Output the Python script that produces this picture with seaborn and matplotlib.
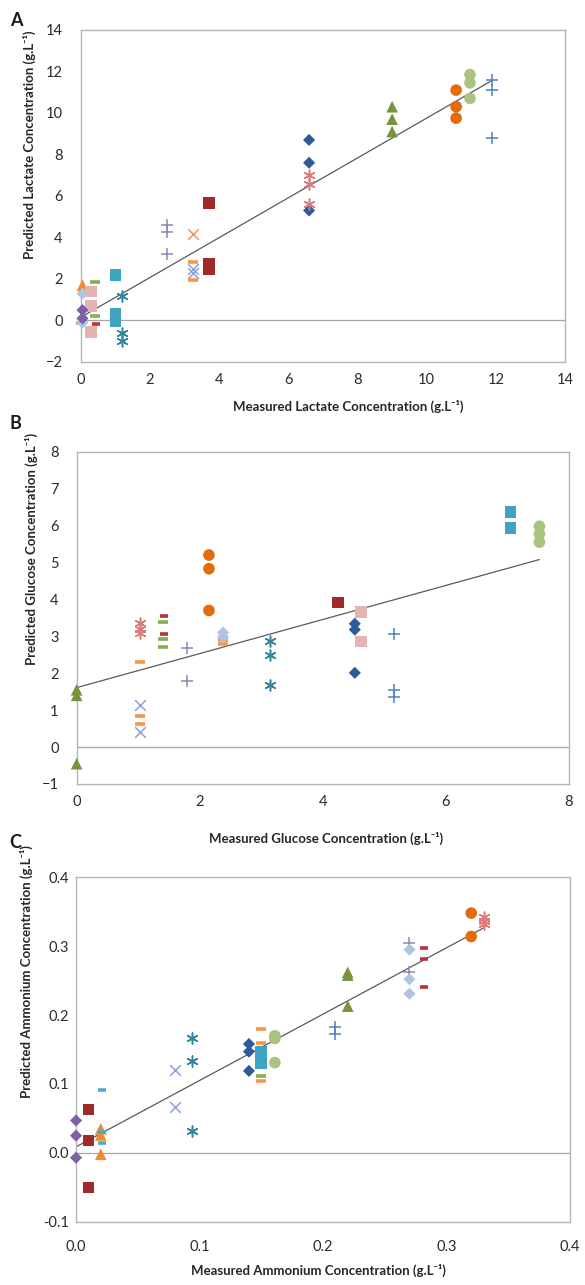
import numpy as np
import pandas as pd
import matplotlib
matplotlib.use('Agg')
import matplotlib.pyplot as plt
import seaborn as sns

# %%
# Panel A - lactate (measured, predicted, series)
lac_meas = [6.6, 6.6, 6.6, 6.6, 6.6, 6.6,
            3.7, 3.7, 3.7, 0.45,
            2.5, 2.5, 2.5,
            3.25, 3.25, 3.25, 3.25, 3.25,
            1.0, 1.0, 1.0, 1.0,
            1.2, 1.2, 1.2,
            9.0, 9.0, 9.0,
            10.85, 10.85, 10.85,
            11.25, 11.25, 11.25,
            11.9, 11.9, 11.9,
            0.05, 0.05, 0.05, 0.3, 0.3, 0.3, 0.4, 0.4, 0.05, 0.05, 0.0]
lac_pred = [8.7, 7.6, 5.3, 7.0, 6.6, 5.6,
            5.65, 2.75, 2.45, -0.15,
            4.6, 4.25, 3.2,
            4.15, 2.5, 2.3, 2.8, 1.95,
            2.2, 0.3, 0.1, -0.05,
            1.2, -0.6, -1.0,
            10.3, 9.7, 9.1,
            11.1, 10.3, 9.75,
            11.85, 11.45, 10.7,
            11.6, 11.1, 8.8,
            1.7, 1.3, -0.1, 1.4, 0.7, -0.55, 1.85, 0.2, 0.5, 0.1, -0.1]
lac_group = ['dia_blue'] * 3 + ['ast_pink'] * 3 + \
            ['sq_red'] * 3 + ['dash_red'] + \
            ['plus_purple'] * 3 + \
            ['x_orange'] + ['x_blue'] * 2 + ['dash_orange'] * 2 + \
            ['sq_teal'] * 4 + \
            ['ast_teal'] * 3 + \
            ['tri_green'] * 3 + \
            ['circ_orange'] * 3 + \
            ['circ_lgreen'] * 3 + \
            ['plus_blue'] * 3 + \
            ['tri_orange', 'dia_lblue', 'dia_lblue', 'sq_pink', 'sq_pink', 'sq_pink',
             'dash_green', 'dash_green', 'dia_purple', 'dia_purple', 'dash_orange']

# Panel B - glucose
glu_meas = [0.0, 0.0, 0.0,
            1.03, 1.03, 1.03,
            1.03, 1.03, 1.03, 2.38, 2.38,
            1.03, 1.03,
            1.4, 1.4, 1.4,
            1.42, 1.42,
            1.8, 1.8,
            2.15, 2.15, 2.15,
            2.38, 2.38,
            3.15, 3.15, 3.15,
            4.25,
            4.62, 4.62,
            4.52, 4.52, 4.52,
            5.15, 5.15, 5.15,
            7.05, 7.05,
            7.52, 7.52, 7.52]
glu_pred = [1.55, 1.4, -0.45,
            3.35, 3.2, 3.1,
            2.3, 0.83, 0.62, 2.8, 2.9,
            1.13, 0.4,
            3.38, 2.92, 2.7,
            3.55, 3.05,
            2.67, 1.78,
            5.2, 4.83, 3.7,
            3.1, 2.98,
            2.88, 2.48, 1.68,
            3.92,
            3.65, 2.86,
            3.34, 3.18, 2.01,
            3.07, 1.54, 1.35,
            6.37, 5.93,
            5.98, 5.77, 5.55]
glu_group = ['tri_green'] * 3 + ['ast_pink'] * 3 + ['dash_orange'] * 5 + \
            ['x_blue'] * 2 + ['dash_green'] * 3 + ['dash_red'] * 2 + \
            ['plus_purple'] * 2 + ['circ_orange'] * 3 + ['dia_lblue'] * 2 + \
            ['ast_teal'] * 3 + ['sq_red'] + ['sq_pink'] * 2 + ['dia_blue'] * 3 + \
            ['plus_blue'] * 3 + ['sq_teal'] * 2 + ['circ_lgreen'] * 3

# Panel C - ammonium
amm_meas = [0.0, 0.0, 0.0,
            0.01, 0.01, 0.01,
            0.02, 0.02, 0.02,
            0.021, 0.021, 0.021,
            0.08, 0.08,
            0.094, 0.094, 0.094,
            0.14, 0.14, 0.14,
            0.15, 0.15, 0.15,
            0.15, 0.15, 0.15, 0.15,
            0.161, 0.161, 0.161,
            0.21, 0.21,
            0.22, 0.22, 0.22,
            0.27, 0.27,
            0.27, 0.27, 0.27,
            0.282, 0.282, 0.282,
            0.32, 0.32,
            0.33, 0.33, 0.33]
amm_pred = [0.047, 0.025, -0.007,
            0.063, 0.018, -0.05,
            0.035, 0.026, -0.002,
            0.091, 0.014, 0.03,
            0.121, 0.067,
            0.167, 0.133, 0.032,
            0.158, 0.147, 0.119,
            0.146, 0.138, 0.130,
            0.180, 0.160, 0.105, 0.112,
            0.170, 0.166, 0.131,
            0.183, 0.173,
            0.262, 0.258, 0.213,
            0.304, 0.263,
            0.295, 0.252, 0.231,
            0.297, 0.281, 0.241,
            0.348, 0.314,
            0.342, 0.337, 0.332]
amm_group = ['dia_purple'] * 3 + ['sq_red'] * 3 + ['tri_orange'] * 3 + \
            ['dash_teal'] * 3 + ['x_blue'] * 2 + ['ast_teal'] * 3 + \
            ['dia_blue'] * 3 + ['sq_teal'] * 3 + \
            ['dash_orange'] * 3 + ['dash_green'] + \
            ['circ_lgreen'] * 3 + ['plus_blue'] * 2 + ['tri_green'] * 3 + \
            ['plus_purple'] * 2 + ['dia_lblue'] * 3 + ['dash_red'] * 3 + \
            ['circ_orange'] * 2 + ['ast_pink'] * 3

# %%
# Excel-like marker styles per series
STAR = (6, 2, 0)
STYLES = {
    'dia_blue':    dict(marker='D', color='#2C5B9B', s=38),
    'dia_lblue':   dict(marker='D', color='#AFC3E3', s=38),
    'dia_purple':  dict(marker='D', color='#7F5FA8', s=38),
    'sq_red':      dict(marker='s', color='#9E2A2B', s=70),
    'sq_teal':     dict(marker='s', color='#3FA3C2', s=70),
    'sq_pink':     dict(marker='s', color='#E6B3B3', s=70),
    'tri_green':   dict(marker='^', color='#77933C', s=70),
    'tri_orange':  dict(marker='^', color='#F08C2E', s=70),
    'circ_orange': dict(marker='o', color='#E36C09', s=70),
    'circ_lgreen': dict(marker='o', color='#A9C47F', s=70),
    'x_blue':      dict(marker='x', color='#8DA3D6', s=60),
    'x_orange':    dict(marker='x', color='#F0935A', s=60),
    'ast_teal':    dict(marker=STAR, color='#31859C', s=60),
    'ast_pink':    dict(marker=STAR, color='#DD7B7B', s=60),
    'plus_purple': dict(marker='+', color='#8C87B4', s=70),
    'plus_blue':   dict(marker='+', color='#4F81BD', s=70),
    'dash_orange': dict(marker='_', color='#F79646', s=55),
    'dash_green':  dict(marker='_', color='#8AAE4E', s=55),
    'dash_red':    dict(marker='_', color='#B3343A', s=30),
    'dash_teal':   dict(marker='_', color='#4BACC6', s=30),
}

sns.set_theme(style='white')
plt.rcParams['font.family'] = ['Lato', 'DejaVu Sans']
plt.rcParams['text.color'] = '#1A1A1A'

fig = plt.figure(figsize=(5.85, 12.85), dpi=100)
axA = fig.add_axes([0.138, 0.7183, 0.828, 0.2584])
axB = fig.add_axes([0.131, 0.3899, 0.8416, 0.2586])
axC = fig.add_axes([0.130, 0.0492, 0.8444, 0.2681])


def draw_panel(ax, meas, pred, group):
    df = pd.DataFrame({'meas': meas, 'pred': pred, 'group': group})
    ax.axhline(0, color='#A6A6A6', lw=0.9, zorder=1)
    sns.regplot(data=df, x='meas', y='pred', scatter=False, ci=None, truncate=True,
                ax=ax, line_kws=dict(color='#5A5A5A', lw=0.9, zorder=2))
    for g, sub in df.groupby('group', sort=False):
        st = STYLES[g]
        filled = st['marker'] in ('D', 's', '^', 'o')
        if filled:
            sns.scatterplot(data=sub, x='meas', y='pred', marker=st['marker'], color=st['color'],
                            s=st['s'], edgecolor='none', linewidth=0, ax=ax, zorder=3, clip_on=False)
        else:
            lw = 2.6 if st['marker'] == '_' else 1.1
            sns.scatterplot(data=sub, x='meas', y='pred', marker=st['marker'], color=st['color'],
                            s=st['s'], linewidth=lw, ax=ax, zorder=3, clip_on=False)
    for sp in ax.spines.values():
        sp.set_color('#B5B5B5')
        sp.set_linewidth(1.0)
    ax.tick_params(length=0, labelsize=10.5, colors='#2A2A2A')


draw_panel(axA, lac_meas, lac_pred, lac_group)
axA.set_xlim(0, 14)
axA.set_ylim(-2, 14)
axA.set_xticks(np.arange(0, 15, 2))
axA.set_yticks(np.arange(-2, 15, 2))
axA.tick_params(axis='y', pad=13)
axA.tick_params(axis='x', pad=8)
axA.set_xlabel('Measured Lactate Concentration (g.L⁻¹)', fontsize=9.5, fontweight='bold', va='center')
axA.set_ylabel('Predicted Lactate Concentration (g.L⁻¹)', fontsize=9.5, fontweight='bold', va='center')
axA.xaxis.set_label_coords(0.552, -0.133)
axA.yaxis.set_label_coords(-0.105, 0.654)

draw_panel(axB, glu_meas, glu_pred, glu_group)
axB.set_xlim(0, 8)
axB.set_ylim(-1, 8)
axB.set_xticks(np.arange(0, 9, 2))
axB.set_yticks(np.arange(-1, 9, 1))
axB.tick_params(axis='y', pad=13)
axB.tick_params(axis='x', pad=8)
axB.set_xlabel('Measured Glucose Concentration (g.L⁻¹)', fontsize=9.5, fontweight='bold', va='center')
axB.set_ylabel('Predicted Glucose Concentration (g.L⁻¹)', fontsize=9.5, fontweight='bold', va='center')
axB.xaxis.set_label_coords(0.506, -0.163)
axB.yaxis.set_label_coords(-0.091, 0.707)

draw_panel(axC, amm_meas, amm_pred, amm_group)
axC.set_xlim(0, 0.4)
axC.set_ylim(-0.1, 0.4)
axC.set_xticks(np.arange(0, 0.41, 0.1))
axC.set_yticks(np.arange(-0.1, 0.41, 0.1))
axC.xaxis.set_major_formatter(matplotlib.ticker.FormatStrFormatter('%.1f'))
axC.yaxis.set_major_formatter(matplotlib.ticker.FormatStrFormatter('%.1f'))
axC.tick_params(axis='y', pad=5)
axC.tick_params(axis='x', pad=13)
axC.set_xlabel('Measured Ammonium Concentration (g.L⁻¹)', fontsize=9.5, fontweight='bold', va='center')
axC.set_ylabel('Predicted Ammonium Concentration (g.L⁻¹)', fontsize=9.5, fontweight='bold', va='center')
axC.xaxis.set_label_coords(0.49, -0.140)
axC.yaxis.set_label_coords(-0.101, 0.725)

# panel letters
fig.text(16 / 585, 1 - 20 / 1285, 'A', fontsize=13, fontweight='bold', ha='center', va='center')
fig.text(15 / 585, 1 - 424 / 1285, 'B', fontsize=13, fontweight='bold', ha='center', va='center')
fig.text(15 / 585, 1 - 842 / 1285, 'C', fontsize=13, fontweight='bold', ha='center', va='center')

fig.savefig('out.png', dpi=100)
